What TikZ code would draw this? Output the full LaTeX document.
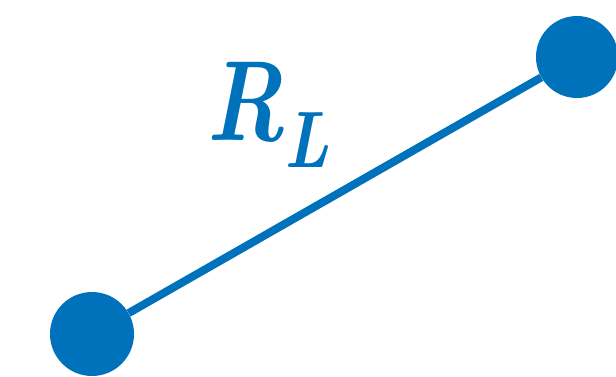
\documentclass[tikz,border=0pt]{standalone}
\definecolor{LoadBlue}{RGB}{0, 114, 188}
\usetikzlibrary{positioning}

\begin{document}
\begin{tikzpicture}[
    x=1pt, y=1pt,
    terminal/.style={circle, fill=LoadBlue, inner sep=0pt, minimum size=84pt},
    wire/.style={draw=LoadBlue, line width=8pt}
]
    \useasboundingbox (0,0) rectangle (616,376);
    \node[terminal] (ta) at (92,42) {};
    \node[terminal, minimum size=82pt] (tb) at (577,319) {};
    \draw[wire] (ta) -- (tb);
    \node[anchor=base west, inner sep=0pt, text=LoadBlue,
          font=\fontsize{114}{114}\selectfont\bfseries\itshape, xscale=0.8] (rl) at (206,236)
        {R\raisebox{-27pt}{\fontsize{80}{80}\selectfont L}};
\end{tikzpicture}
\end{document}
